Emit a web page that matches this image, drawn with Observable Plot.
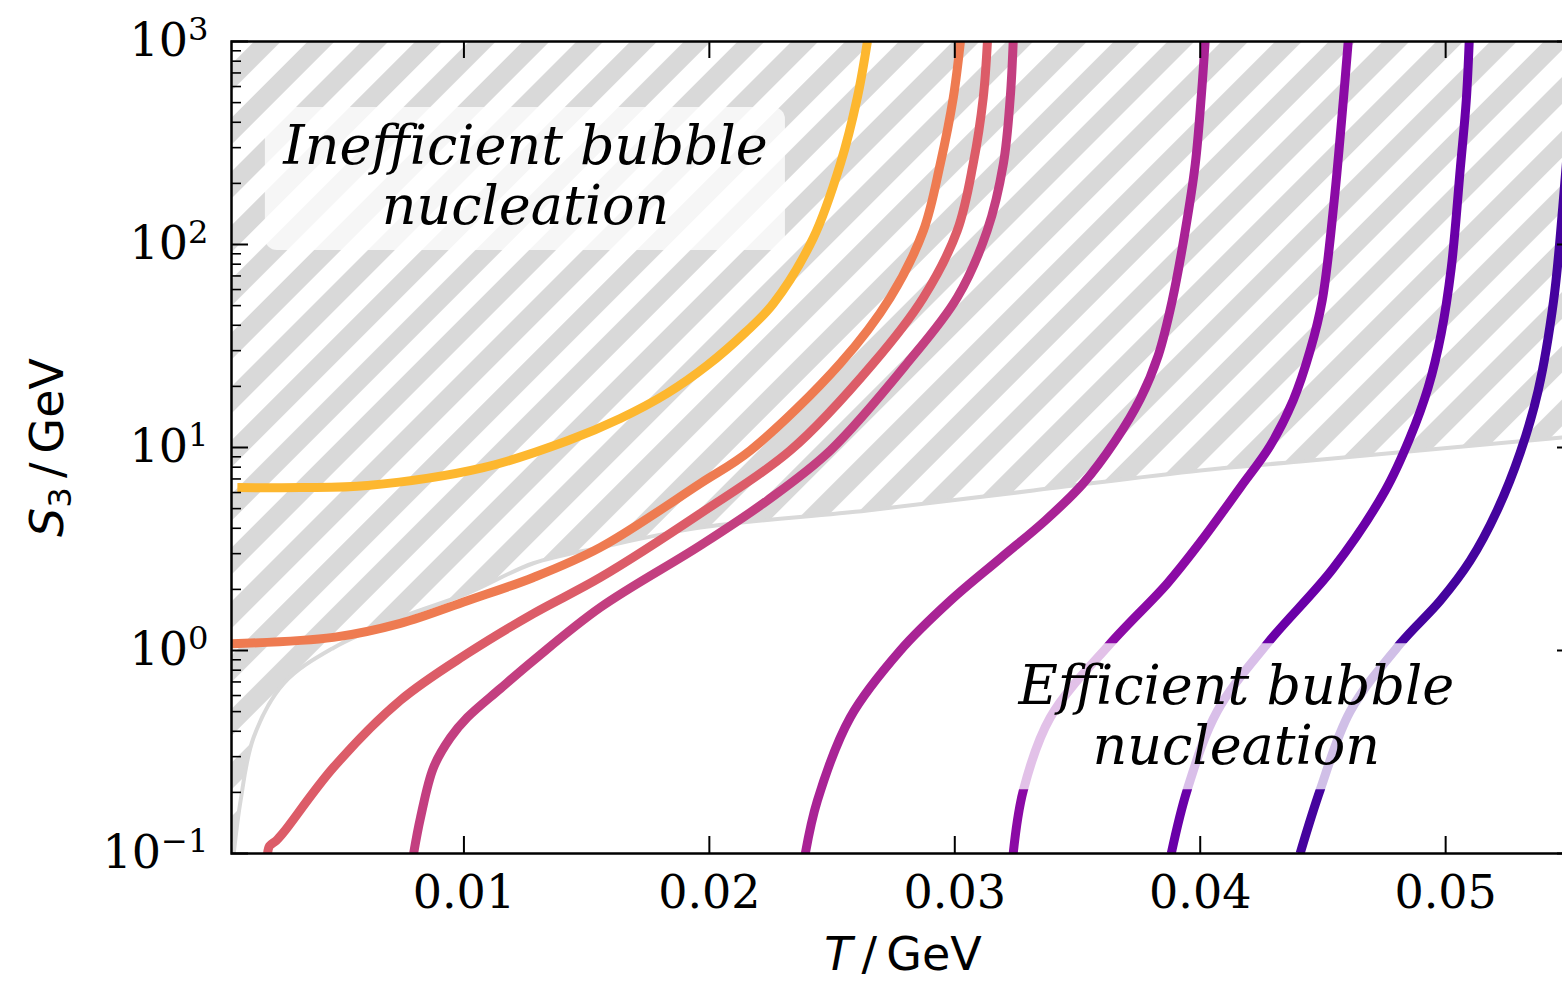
<!DOCTYPE html>
<html>
<head>
<meta charset="utf-8">
<script src="https://cdn.jsdelivr.net/npm/d3@7"></script>
<script src="https://cdn.jsdelivr.net/npm/@observablehq/plot@0.6"></script>
<style>
html, body { margin: 0; padding: 0; background: #ffffff; overflow: hidden; }
#chart { width: 1562px; height: 981px; overflow: hidden; }
</style>
</head>
<body>
<div id="chart"></div>
<script>
// ---------------- data ----------------
const xDomain = [0.00053, 0.05525];
const yDomain = [0.1, 1000];

const xTicks = [0.01, 0.02, 0.03, 0.04, 0.05];
const xTickLabels = ["0.01", "0.02", "0.03", "0.04", "0.05"];
const yTicks = [0.1, 1, 10, 100, 1000];
const yTickExponents = ["\u22121", "0", "1", "2", "3"];

const xLabel = ["T", "\u2009/\u2009GeV"];
const yLabel = ["S", "3", "\u2009/\u2009GeV"];

// boundary of the inefficient-nucleation (hatched) region
const boundaryT = [0.00058, 0.00090, 0.00143, 0.00265, 0.00468, 0.00741, 0.01014, 0.01283, 0.01556, 0.01963, 0.02644, 0.0332, 0.0400, 0.04407, 0.05474, 0.05525];
const boundaryS = [0.09, 0.182, 0.373, 0.687, 1.03, 1.45, 1.91, 2.69, 3.22, 4.03, 4.90, 6.14, 7.71, 8.53, 11.2, 11.3];

// S3(T) curves
const T1 = [0.00077, 0.00334, 0.00607, 0.01079, 0.01422, 0.01637, 0.01829, 0.01992, 0.02147, 0.02261, 0.02424, 0.02534, 0.02603, 0.02644];
const S1 = [6.35, 6.35, 6.5, 7.96, 10.8, 13.9, 18.5, 25.4, 36.9, 51.2, 108, 250, 530, 1000];

const T2 = [0.00055, 0.00468, 0.00741, 0.01014, 0.01283, 0.01556, 0.01963, 0.02167, 0.02534, 0.02737, 0.02872, 0.02941, 0.02994, 0.03023];
const S2 = [1.08, 1.16, 1.36, 1.76, 2.29, 3.22, 6.65, 9.67, 26, 54.8, 117, 250, 530, 1000];

const T3 = [0.0020, 0.00208, 0.00236, 0.00265, 0.00468, 0.00741, 0.01014, 0.01283, 0.01556, 0.01963, 0.0233, 0.02668, 0.02872, 0.0301, 0.03075, 0.03116, 0.03133];
const S3 = [0.1, 0.109, 0.116, 0.127, 0.265, 0.568, 0.966, 1.52, 2.29, 4.73, 9.67, 26, 54.8, 117, 250, 530, 1000];

const T4 = [0.00795, 0.00823, 0.00876, 0.00945, 0.01014, 0.01149, 0.01283, 0.01556, 0.01963, 0.02236, 0.02493, 0.02806, 0.0301, 0.03132, 0.03198, 0.03226, 0.03238];
const S4 = [0.1, 0.150, 0.265, 0.372, 0.468, 0.650, 0.893, 1.63, 3.29, 5.48, 9.67, 26, 54.8, 117, 250, 530, 1000];

const T5 = [0.02391, 0.0244, 0.02574, 0.02778, 0.02982, 0.03185, 0.03369, 0.03523, 0.03654, 0.03756, 0.03829, 0.03886, 0.03939, 0.0398, 0.04004, 0.0402];
const S5 = [0.1, 0.182, 0.468, 1.0, 1.76, 2.84, 4.37, 6.65, 10.8, 17.4, 28.4, 53, 117, 250, 530, 1000];

const T6 = [0.03238, 0.03279, 0.03389, 0.03633, 0.03866, 0.0400, 0.04163, 0.04285, 0.04379, 0.04448, 0.04497, 0.04546, 0.04583, 0.04603];
const S6 = [0.1, 0.204, 0.468, 1.08, 2.14, 3.41, 6.35, 10.2, 17.1, 30.1, 53, 165, 512, 1000];

const T7 = [0.03882, 0.03947, 0.04069, 0.04273, 0.04542, 0.04754, 0.04855, 0.04929, 0.04982, 0.05023, 0.0506, 0.05084, 0.05096];
const S7 = [0.1, 0.206, 0.501, 1.08, 2.54, 6.14, 11.2, 19.8, 36.5, 77, 239, 512, 1000];

const T8 = [0.04407, 0.04489, 0.04611, 0.04815, 0.04978, 0.05100, 0.0521, 0.05304, 0.05377, 0.0544, 0.05477, 0.05525];
const S8 = [0.1, 0.206, 0.501, 1.08, 1.76, 2.77, 4.9, 9.44, 19.1, 53, 152, 800];

const seriesT = [T1, T2, T3, T4, T5, T6, T7, T8];
const seriesS = [S1, S2, S3, S4, S5, S6, S7, S8];
const seriesColors = ["#fdb72f", "#ee7b51", "#dc5c68", "#c33f80", "#a92395", "#8b0aa5", "#6a00a8", "#45039e"];

// annotations
const noteText = ["Inefficient bubble\nnucleation", "Efficient bubble\nnucleation"];
const noteT = [0.01251, 0.04147];
const noteS = [220, 0.484];
const boxT1 = [0.00191, 0.0320];
const boxT2 = [0.0231, 0.0510];
const boxS1 = [93.3, 0.206];
const boxS2 = [473, 1.08];

// ---------------- build ----------------
const W = 1574, H = 981, mL = 231, mR = 0, mT = 41, mB = 128;
const innerW = W - mL - mR, innerH = H - mT - mB;
const majorLen = 17, minorLen = 10;

const yMinor = [];
for (let e = -1; e < 3; e++) for (let m = 2; m <= 9; m++) yMinor.push(m * Math.pow(10, e));

const boundary = boundaryT.map((t, i) => ({T: t, S: boundaryS[i], top: yDomain[1]}));
const curveRows = seriesT.map((ts, k) => ts.map((t, j) => ({T: t, S: seriesS[k][j]})));
const notes = noteText.map((s, i) => ({label: s, T: noteT[i], S: noteS[i]}));
const boxes = boxT1.map((t, i) => ({x1: t, x2: boxT2[i], y1: boxS1[i], y2: boxS2[i]}));

const svg = Plot.plot({
  width: W, height: H,
  marginLeft: mL, marginRight: mR, marginTop: mT, marginBottom: mB,
  style: {maxWidth: "none", background: "#ffffff", fontFamily: "DejaVu Serif", fontSize: "46px", color: "black"},
  x: {domain: xDomain, axis: null},
  y: {type: "log", domain: yDomain, axis: null},
  marks: [
    Plot.areaY(boundary, {x: "T", y1: "S", y2: "top", fill: "url(#hatch)", curve: "catmull-rom", clip: true}),
    Plot.line(boundary, {x: "T", y: "S", stroke: "#d9d9d9", strokeWidth: 4, curve: "catmull-rom", clip: true}),
    ...curveRows.map((rows, k) => Plot.line(rows, {
      x: "T", y: "S", stroke: seriesColors[k], strokeWidth: 9,
      curve: "catmull-rom", clip: true, strokeLinecap: "butt", strokeLinejoin: "round"
    })),
    Plot.rect(boxes, {x1: "x1", x2: "x2", y1: "y1", y2: "y2", fill: "white", fillOpacity: 0.75, rx: 12, ry: 12}),
    Plot.text(notes, {
      x: "T", y: "S", text: "label", fontFamily: "DejaVu Serif", fontStyle: "italic",
      fontSize: 54, lineHeight: 1.11, fill: "black", textAnchor: "middle", lineAnchor: "middle"
    }),
    // inward ticks
    Plot.ruleX(xTicks, {x: d => d, insetTop: innerH - majorLen, stroke: "black", strokeWidth: 2}),
    Plot.ruleX(xTicks, {x: d => d, insetBottom: innerH - majorLen, stroke: "black", strokeWidth: 2}),
    Plot.ruleY(yTicks, {y: d => d, insetRight: innerW - majorLen, stroke: "black", strokeWidth: 2}),
    Plot.ruleY(yTicks, {y: d => d, insetLeft: innerW - majorLen, stroke: "black", strokeWidth: 2}),
    Plot.ruleY(yMinor, {y: d => d, insetRight: innerW - minorLen, stroke: "black", strokeWidth: 1.6}),
    Plot.frame({stroke: "black", strokeWidth: 2.5}),
    Plot.axisX({
      ticks: xTicks, tickSize: 0, tickPadding: 22, label: null,
      tickFormat: d => xTickLabels[xTicks.indexOf(d)],
      fontSize: 46, fontFamily: "DejaVu Serif", fill: "black"
    }),
    Plot.axisY({
      ticks: yTicks, tickSize: 0, tickPadding: 23, label: null,
      tickFormat: d => "10^" + yTickExponents[yTicks.indexOf(d)],
      fontSize: 46, fontFamily: "DejaVu Serif", fill: "black"
    }),
    Plot.text([xLabel.join("")], {
      text: d => d, frameAnchor: "bottom", dy: 102, lineAnchor: "middle", textAnchor: "middle",
      fontFamily: "DejaVu Sans", fontSize: 46, fill: "black"
    }),
    Plot.text([yLabel.join("")], {
      text: d => d, frameAnchor: "left", dx: -183, rotate: -90, lineAnchor: "middle", textAnchor: "middle",
      fontFamily: "DejaVu Sans", fontSize: 46, fill: "black"
    })
  ]
});

const s = d3.select(svg);
// hatch pattern
const P = 38;
const defs = s.insert("defs", ":first-child");
const pat = defs.append("pattern")
  .attr("id", "hatch").attr("patternUnits", "userSpaceOnUse")
  .attr("width", P).attr("height", P).attr("patternTransform", "rotate(45)");
pat.append("rect").attr("width", P).attr("height", P).attr("fill", "#d9d9d9");
pat.append("rect").attr("width", P * 0.5).attr("height", P).attr("fill", "#ffffff");

// y tick labels: 10 with superscript exponent
s.selectAll('g[aria-label="y-axis tick label"] text').each(function() {
  const parts = this.textContent.split("^");
  const el = d3.select(this);
  el.text(parts[0]);
  el.append("tspan").attr("dy", "-0.5em").attr("font-size", "0.7em").text(parts[1]);
});

// x label with italic T
const xl = xLabel.join(""), yl = yLabel.join("");
s.selectAll("text").filter(function() { return this.textContent === xl; }).each(function() {
  const el = d3.select(this);
  el.text("");
  el.append("tspan").attr("font-style", "italic").text(xLabel[0]);
  el.append("tspan").text(xLabel[1]);
});

// y label with italic S and subscript 3
s.selectAll("text").filter(function() { return this.textContent === yl; }).each(function() {
  const el = d3.select(this);
  el.text("");
  el.append("tspan").attr("font-style", "italic").text(yLabel[0]);
  el.append("tspan").attr("font-size", "0.7em").attr("dy", 8).text(yLabel[1]);
  el.append("tspan").attr("dy", -8).text(yLabel[2]);
});

document.getElementById("chart").appendChild(svg);
</script>
</body>
</html>
